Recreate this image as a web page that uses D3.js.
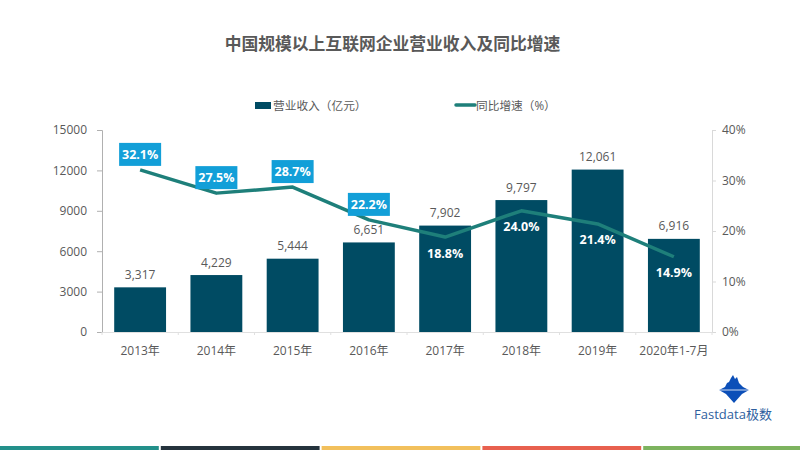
<!DOCTYPE html>
<html lang="zh">
<head>
  <meta charset="UTF-8">
  <title>中国规模以上互联网企业营业收入及同比增速</title>
  <script src="https://cdn.jsdelivr.net/npm/d3@7"></script>
</head>
<style>
html, body { margin: 0; padding: 0; background: #fff; }
svg { display: block; }
text { font-family: "Open Sans", "Noto Sans CJK SC", sans-serif; fill: #595959; }
</style>
<body>
<svg width="800" height="450"></svg>
<script>
const categories = ["2013年", "2014年", "2015年", "2016年", "2017年", "2018年", "2019年", "2020年1-7月"];
const revenue = [3317, 4229, 5444, 6651, 7902, 9797, 12061, 6916];
const growth = [32.1, 27.5, 28.7, 22.2, 18.8, 24.0, 21.4, 14.9];
const growthBadge = [true, true, true, true, false, false, false, false];
const revenueTicks = [0, 3000, 6000, 9000, 12000, 15000];
const growthTicks = [0, 10, 20, 30, 40];
const stripColors = ["#23908a", "#25333d", "#f2c05c", "#e8604f", "#7db35f"];

const plotLeft = 102, plotRight = 712, plotTop = 130, plotBottom = 332;
const svg = d3.select("svg");

const x = d3.scaleBand().domain(categories).range([plotLeft, plotRight]).paddingInner(0.32).paddingOuter(0.16);
const y = d3.scaleLinear().domain([0, 15000]).range([plotBottom, plotTop]);
const y2 = d3.scaleLinear().domain([0, 40]).range([plotBottom, plotTop]);
const cx = d => x(d) + x.bandwidth() / 2;

// title
svg.append("text").attr("x", 392.5).attr("y", 49.5).attr("text-anchor", "middle")
  .style("font-size", "16.8px").style("font-weight", "bold")
  .text("中国规模以上互联网企业营业收入及同比增速");

// legend
svg.append("rect").attr("x", 255).attr("y", 102).attr("width", 16).attr("height", 7).attr("fill", "#004b63");
svg.append("text").attr("x", 273).attr("y", 110).style("font-size", "11.7px").text("营业收入（亿元）");
svg.append("line").attr("x1", 456).attr("x2", 475).attr("y1", 105).attr("y2", 105)
  .attr("stroke", "#1e7f7a").attr("stroke-width", 3.5).attr("stroke-linecap", "round");
svg.append("text").attr("x", 476).attr("y", 110).style("font-size", "11.7px").text("同比增速（%）");

// axes
const yAxis = d3.axisLeft(y).tickValues(revenueTicks).tickSize(5).tickPadding(10).tickFormat(d3.format("d"));
const y2Axis = d3.axisRight(y2).tickValues(growthTicks).tickSize(4).tickPadding(6).tickFormat(d => d + "%");
const xAxis = d3.axisBottom(x).tickSize(0).tickPadding(14.5);

const axisStyle = (g, color) => {
  g.selectAll("path,line").attr("stroke", color);
  g.selectAll("text").style("font-size", "12px");
};
axisStyle(svg.append("g").attr("transform", `translate(${plotLeft},0)`).call(yAxis), "#b0b0b0");
axisStyle(svg.append("g").attr("transform", `translate(${plotRight},0)`).call(y2Axis), "#d9d9d9");
axisStyle(svg.append("g").attr("transform", `translate(0,${plotBottom})`).call(xAxis), "#e0e0e0");

// small ticks between categories
svg.append("g").selectAll("line").data(d3.range(0, categories.length + 1)).join("line")
  .attr("x1", i => plotLeft + i * x.step()).attr("x2", i => plotLeft + i * x.step())
  .attr("y1", plotBottom).attr("y2", plotBottom + 3).attr("stroke", "#e0e0e0");

// bars
svg.append("g").selectAll("rect").data(categories).join("rect")
  .attr("x", d => x(d)).attr("width", x.bandwidth())
  .attr("y", (d, i) => y(revenue[i])).attr("height", (d, i) => plotBottom - y(revenue[i]))
  .attr("fill", "#004b63");

svg.append("g").selectAll("text").data(categories).join("text")
  .attr("x", cx).attr("y", (d, i) => y(revenue[i]) - 8.5)
  .attr("text-anchor", "middle").style("font-size", "12px")
  .text((d, i) => d3.format(",")(revenue[i]));

// growth line
const line = d3.line().x(d => cx(d)).y((d, i) => y2(growth[i]));
svg.append("path").datum(categories).attr("d", line).attr("fill", "none")
  .attr("stroke", "#1e7f7a").attr("stroke-width", 3.5).attr("stroke-linejoin", "round");

// growth labels
const labels = svg.append("g").selectAll("g").data(categories).join("g")
  .attr("transform", (d, i) => `translate(${cx(d)},${y2(growth[i]) + (growthBadge[i] ? -15.5 : 16)})`);
labels.filter((d, i) => growthBadge[i]).append("rect")
  .attr("x", -21).attr("y", -11.5).attr("width", 42).attr("height", 23).attr("fill", "#129fd8");
labels.append("text").attr("text-anchor", "middle").attr("y", 4.5)
  .style("font-size", "12.5px").style("font-weight", "bold").style("fill", "#fff")
  .text((d, i) => growth[i].toFixed(1) + "%");

// logo
const logo = svg.append("g").attr("transform", "translate(734,390)");
logo.append("path").attr("fill", "#0c4fb8")
  .attr("d", "M-15,0 L-9,-3 L-7,-7 L-5,-8 L-3,-12 L-1,-15 L1,-11 L3,-13 L5,-7 L9,-3 L15,0 L8,4 L0,13 L-8,4 Z");
logo.append("line").attr("x1", -15).attr("x2", 15).attr("y1", 0).attr("y2", 0)
  .attr("stroke", "#fff").attr("stroke-width", 0.8);
svg.append("text").attr("x", 733).attr("y", 419).attr("text-anchor", "middle")
  .style("font-size", "13px").style("fill", "#2f5f9e").text("Fastdata极数");

// bottom colour strip
const strip = d3.scaleBand().domain(d3.range(stripColors.length)).range([0, 802]).paddingInner(0.0125);
svg.append("g").selectAll("rect").data(stripColors).join("rect")
  .attr("x", (d, i) => strip(i)).attr("y", 446).attr("width", strip.bandwidth()).attr("height", 4)
  .attr("fill", d => d);
</script>
</body>
</html>
